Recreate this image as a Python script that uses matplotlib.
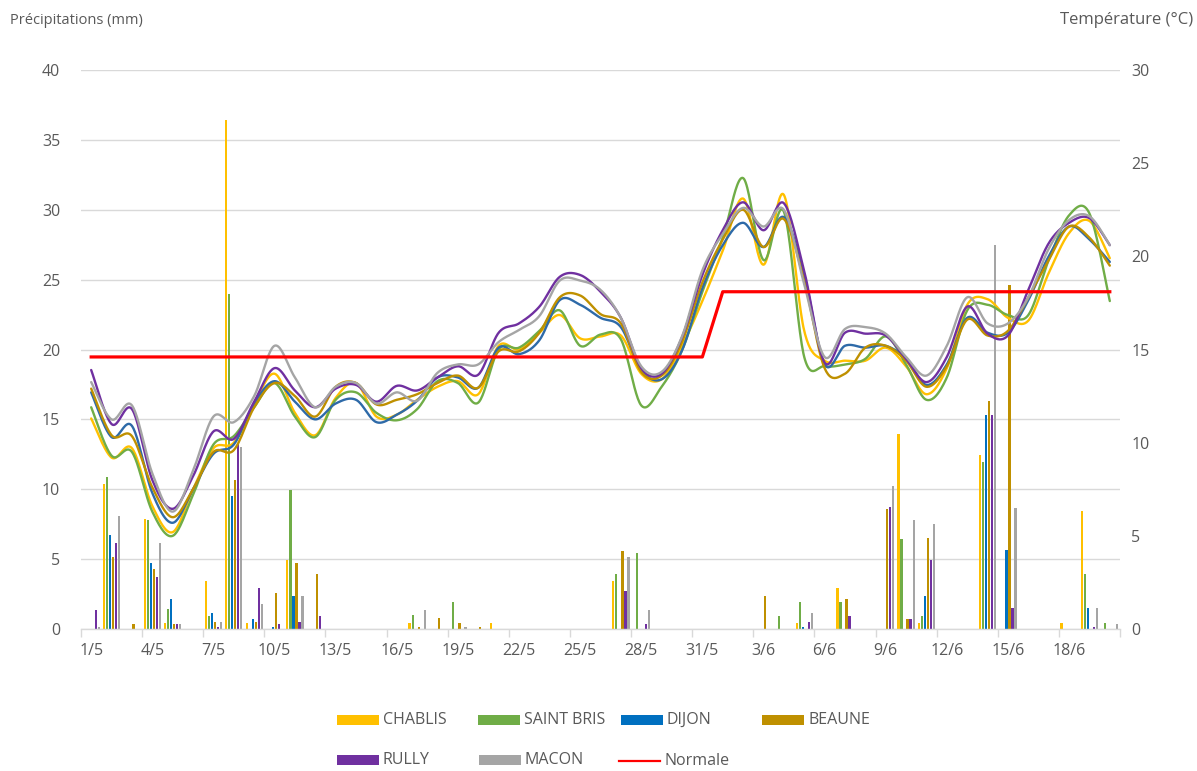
import numpy as np
import matplotlib
matplotlib.use("Agg")
import matplotlib.pyplot as plt
from matplotlib.patches import Rectangle
from matplotlib.lines import Line2D

plt.rcParams['font.family'] = ['Open Sans', 'DejaVu Sans']

# ---------------- data ----------------
days = ["1/5", "2/5", "3/5", "4/5", "5/5", "6/5", "7/5", "8/5", "9/5", "10/5",
        "11/5", "12/5", "13/5", "14/5", "15/5", "16/5", "17/5", "18/5", "19/5", "20/5",
        "21/5", "22/5", "23/5", "24/5", "25/5", "26/5", "27/5", "28/5", "29/5", "30/5",
        "31/5", "1/6", "2/6", "3/6", "4/6", "5/6", "6/6", "7/6", "8/6", "9/6",
        "10/6", "11/6", "12/6", "13/6", "14/6", "15/6", "16/6", "17/6", "18/6", "19/6",
        "20/6"]

stations = ["CHABLIS", "SAINT BRIS", "DIJON", "BEAUNE", "RULLY", "MACON"]

# precipitation (mm)
rain_chablis = [0, 10.4, 0, 7.9, 0.43, 0, 3.44, 36.45, 0.43, 0,
                4.92, 0, 0, 0, 0, 0, 0.45, 0, 0, 0,
                0.45, 0, 0, 0, 0, 0, 3.44, 0, 0, 0,
                0, 0, 0, 0, 0, 0.43, 0, 2.91, 0, 0,
                13.93, 0.43, 0, 0, 12.45, 0, 0, 0, 0.43, 8.42,
                0]
rain_saintbris = [0, 10.9, 0, 7.8, 1.46, 0, 0.95, 24.0, 0, 0,
                  9.97, 0, 0, 0, 0, 0, 0.98, 0, 1.95, 0,
                  0, 0, 0, 0, 0, 0, 3.96, 5.44, 0, 0,
                  0, 0, 0, 0, 0.95, 1.91, 0, 1.91, 0, 0,
                  6.44, 0.95, 0, 0, 11.93, 0, 0, 0, 0, 3.96,
                  0.43]
rain_dijon = [0, 6.75, 0, 4.75, 2.13, 0, 1.17, 9.52, 0.74, 0.15,
              2.34, 0, 0, 0, 0, 0, 0, 0, 0, 0,
              0, 0, 0, 0, 0, 0, 0, 0, 0, 0,
              0, 0, 0, 0, 0, 0.12, 0, 0, 0, 0,
              0, 2.34, 0, 0, 15.31, 5.63, 0, 0, 0, 1.53,
              0]
rain_beaune = [0, 5.13, 0.36, 4.32, 0.36, 0, 0.5, 10.64, 0.5, 2.58,
               4.75, 3.96, 0, 0, 0, 0, 0.14, 0.8, 0.4, 0.14,
               0, 0, 0, 0, 0, 0, 5.57, 0, 0, 0,
               0, 0, 0, 2.34, 0, 0, 0, 2.12, 0, 8.57,
               0.72, 6.54, 0, 0, 16.29, 24.65, 0, 0, 0, 0,
               0]
rain_rully = [1.34, 6.18, 0, 3.72, 0.36, 0, 0.15, 13.3, 2.91, 0.36,
              0.5, 0.93, 0, 0, 0, 0, 0, 0, 0, 0,
              0, 0, 0, 0, 0, 0, 2.72, 0.38, 0, 0,
              0, 0, 0, 0, 0, 0.53, 0, 0.95, 0, 8.71,
              0.72, 4.92, 0, 0, 15.31, 1.53, 0, 0, 0, 0.15,
              0]
rain_macon = [0.15, 8.06, 0, 6.13, 0.36, 0, 0.5, 13.0, 1.77, 0,
              2.34, 0, 0, 0, 0, 0, 1.36, 0, 0.14, 0,
              0, 0, 0, 0, 0, 0, 5.13, 1.34, 0, 0,
              0, 0, 0, 0, 0, 1.17, 0, 0, 0, 10.26,
              7.83, 7.54, 0, 0, 27.5, 8.64, 0, 0, 0, 1.53,
              0.36]

# temperature (°C)
temp_chablis = [11.3, 9.2, 9.7, 6.6, 5.2, 7.5, 9.7, 10.0, 12.1, 13.7,
                11.6, 10.4, 12.4, 13.2, 11.4, 11.5, 12.3, 13.0, 13.3, 12.6,
                15.2, 15.0, 15.9, 16.85, 15.6, 15.7, 15.75, 13.7, 13.4, 15.2,
                17.6, 20.3, 23.1, 19.55, 23.3, 16.0, 14.4, 14.4, 14.4, 15.1,
                14.1, 12.6, 14.0, 17.4, 17.7, 16.7, 16.55, 19.1, 21.25, 21.9,
                19.9]
temp_saintbris = [11.9, 9.3, 9.5, 6.3, 5.0, 7.2, 9.9, 10.35, 11.9, 13.2,
                  11.4, 10.3, 12.3, 12.7, 11.6, 11.2, 11.8, 13.3, 13.2, 12.15,
                  15.0, 15.1, 16.0, 17.1, 15.2, 15.8, 15.55, 12.0, 13.0, 14.95,
                  18.1, 21.0, 24.2, 19.8, 22.4, 14.6, 14.1, 14.2, 14.5, 15.7,
                  14.2, 12.3, 13.5, 17.1, 17.4, 16.85, 16.85, 19.8, 22.2, 22.3,
                  17.6]
temp_dijon = [12.7, 10.3, 10.9, 7.3, 5.7, 7.5, 9.4, 9.9, 12.1, 13.3,
              12.2, 11.25, 12.1, 12.3, 11.1, 11.5, 12.25, 13.5, 13.5, 12.95,
              15.1, 14.75, 15.5, 17.65, 17.4, 16.7, 16.2, 13.9, 13.4, 14.95,
              18.3, 20.6, 21.8, 20.5, 22.1, 19.0, 14.2, 15.2, 15.1, 15.2,
              14.5, 13.1, 14.2, 16.7, 15.9, 15.9, 17.65, 20.0, 21.6, 20.9,
              19.7]
temp_beaune = [12.9, 10.4, 10.35, 7.6, 6.0, 7.5, 9.5, 9.6, 11.9, 13.2,
               12.5, 11.4, 13.0, 13.2, 12.05, 12.3, 12.6, 13.2, 13.6, 12.95,
               14.9, 14.9, 15.9, 17.8, 17.9, 16.9, 16.4, 13.8, 13.6, 15.4,
               18.6, 20.9, 22.5, 20.5, 22.0, 18.7, 14.0, 13.7, 15.1, 15.2,
               14.4, 13.0, 14.1, 16.6, 15.75, 16.0, 17.8, 19.8, 21.6, 21.0,
               19.5]
temp_rully = [13.9, 11.0, 11.8, 8.0, 6.45, 8.2, 10.6, 10.2, 12.2, 14.0,
              12.8, 11.9, 12.9, 13.1, 12.2, 13.05, 12.8, 13.5, 14.1, 13.65,
              15.9, 16.4, 17.3, 18.9, 19.0, 18.1, 16.7, 14.0, 13.7, 15.65,
              19.0, 21.4, 22.9, 21.4, 22.85, 19.2, 14.3, 15.9, 15.85, 15.75,
              14.5, 13.25, 14.6, 17.3, 15.85, 15.75, 18.2, 20.7, 21.8, 22.05,
              20.6]
temp_macon = [13.25, 11.25, 12.0, 8.35, 6.3, 8.5, 11.4, 11.1, 12.5, 15.2,
              13.5, 11.9, 13.0, 13.2, 12.1, 12.7, 12.25, 13.75, 14.2, 14.2,
              15.4, 16.05, 16.8, 18.7, 18.7, 18.2, 16.7, 14.1, 13.8, 15.7,
              19.25, 21.2, 22.6, 21.6, 22.5, 18.5, 14.6, 16.1, 16.2, 15.85,
              14.6, 13.6, 15.2, 17.8, 16.4, 16.4, 17.8, 20.4, 21.95, 22.15,
              20.6]
normale = [14.6] * 31 + [18.1] * 20

rain = [rain_chablis, rain_saintbris, rain_dijon, rain_beaune, rain_rully, rain_macon]
temps = [temp_chablis, temp_saintbris, temp_dijon, temp_beaune, temp_rully, temp_macon]

bar_colors = ["#FFC000", "#70AD47", "#0070C0", "#BF9000", "#7030A0", "#A5A5A5"]
line_colors = ["#FFC000", "#70AD47", "#2E6AA8", "#BF9000", "#7030A0", "#A5A5A5"]
TXT = "#595959"
GRID = "#D9D9D9"


def smooth(xs, ys, n=24):
    """Excel-like smoothed line (Catmull-Rom through the points, as Bezier)."""
    p = np.column_stack([xs, ys]).astype(float)
    out = []
    m = len(p)
    for i in range(m - 1):
        p0 = p[i - 1] if i > 0 else p[i]
        p1, p2 = p[i], p[i + 1]
        p3 = p[i + 2] if i + 2 < m else p[i + 1]
        c1 = p1 + (p2 - p0) / 6.0
        c2 = p2 - (p3 - p1) / 6.0
        t = np.linspace(0, 1, n, endpoint=(i == m - 2))[:, None]
        seg = ((1 - t) ** 3) * p1 + 3 * ((1 - t) ** 2) * t * c1 + 3 * (1 - t) * t ** 2 * c2 + t ** 3 * p2
        out.append(seg)
    out = np.vstack(out)
    return out[:, 0], out[:, 1]


# ---------------- figure ----------------
W, H = 1197, 771
fig = plt.figure(figsize=(W / 100, H / 100), dpi=100)
L, R, T, B = 81, 1120, 70, 629
ax = fig.add_axes([L / W, 1 - B / H, (R - L) / W, (B - T) / H])

x = np.arange(len(days))
step = 0.148
bw = 0.11
for k, (vals, col) in enumerate(zip(rain, bar_colors)):
    ax.bar(x + (k - 2.5) * step, vals, width=bw, color=col, zorder=2, linewidth=0)

ax.set_xlim(-0.5, len(days) - 0.5)
ax.set_ylim(0, 40)
ax.set_yticks(np.arange(0, 41, 5))
ax.yaxis.grid(True, color=GRID, linewidth=1.0, zorder=0)
ax.set_axisbelow(True)
for s in ["top", "right", "left"]:
    ax.spines[s].set_visible(False)
ax.spines["bottom"].set_color(GRID)
ax.spines["bottom"].set_linewidth(1.0)
ax.tick_params(axis="y", length=0, pad=15, labelsize=11.5, labelcolor=TXT)

ax.set_xticks(x[::3])
ax.set_xticklabels(days[::3])
ax.set_xticks(np.arange(-0.5, len(days), 3), minor=True)
ax.tick_params(axis="x", which="major", length=0, pad=10, labelsize=11.5, labelcolor=TXT)
ax.tick_params(axis="x", which="minor", length=6, color=GRID, width=1.0)

ax2 = ax.twinx()
ax2.set_ylim(0, 30)
ax2.set_yticks(np.arange(0, 31, 5))
for s in ["top", "right", "left", "bottom"]:
    ax2.spines[s].set_visible(False)
ax2.tick_params(axis="y", length=0, pad=8, labelsize=11.5, labelcolor=TXT)

for vals, col in zip(temps, line_colors):
    sx, sy = smooth(x, vals)
    ax2.plot(sx, sy, color=col, linewidth=1.7, solid_capstyle="round", zorder=3)
ax2.plot(x, normale, color="#FF0000", linewidth=2.3, zorder=4)

# axis titles
fig.text(10 / W, 1 - 20 / H, "Précipitations (mm)", ha="left", va="center", fontsize=10.5, color=TXT)
fig.text(1193 / W, 1 - 20 / H, "Température (°C)", ha="right", va="center", fontsize=12, color=TXT)

# legend
entries = [
    ("CHABLIS", bar_colors[0], "bar", 337, 720),
    ("SAINT BRIS", bar_colors[1], "bar", 478, 720),
    ("DIJON", bar_colors[2], "bar", 621, 720),
    ("BEAUNE", bar_colors[3], "bar", 762, 720),
    ("RULLY", bar_colors[4], "bar", 337, 760),
    ("MACON", bar_colors[5], "bar", 479, 760),
    ("Normale", "#FF0000", "line", 619, 761),
]
for label, col, kind, px, py in entries:
    if kind == "bar":
        fig.add_artist(Rectangle((px / W, 1 - (py + 5) / H), 42 / W, 10 / H,
                                 transform=fig.transFigure, color=col, linewidth=0))
    else:
        fig.add_artist(Line2D([px / W, (px + 41) / W], [1 - py / H, 1 - py / H],
                              transform=fig.transFigure, color=col, linewidth=1.6))
    fig.text((px + 46) / W, 1 - py / H, label, ha="left", va="center", fontsize=11.5, color=TXT)

fig.savefig("out.png", dpi=100)
